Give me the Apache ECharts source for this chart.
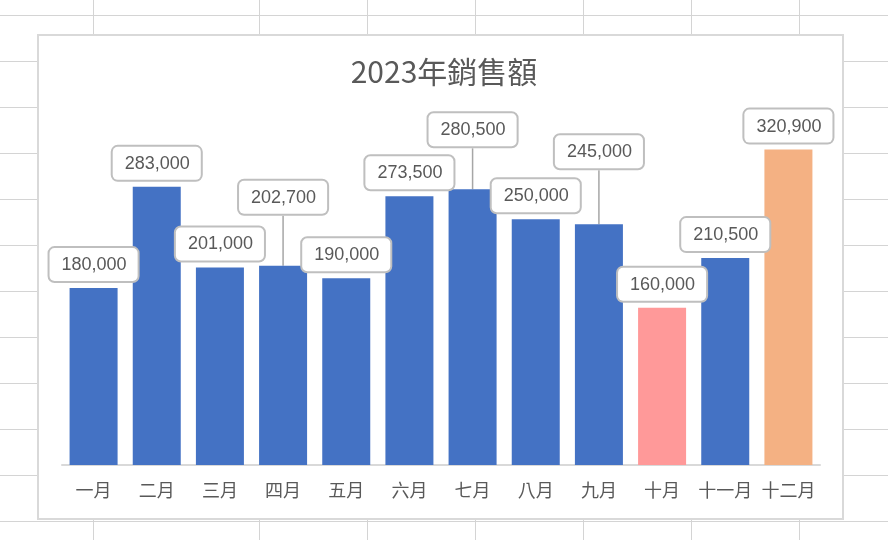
<!DOCTYPE html>
<html>
<head>
<meta charset="utf-8">
<script src="https://cdn.jsdelivr.net/npm/echarts@6/dist/echarts.min.js"></script>
<style>
html,body{margin:0;padding:0;background:#fff;}
#chart{width:888px;height:540px;}
</style>
</head>
<body>
<div id="chart"></div>
<script>
// ---- data ----
const chartTitle = '2023年銷售額';
const months = ['一月','二月','三月','四月','五月','六月','七月','八月','九月','十月','十一月','十二月'];
const sales = [180000, 283000, 201000, 202700, 190000, 273500, 280500, 250000, 245000, 160000, 210500, 320900];

// ---- style ----
const baseColor = '#4472C4';
const specialColors = {9: '#FF9999', 11: '#F4B183'};
const labelRaise = {3: -45, 6: -36, 8: -49};   // label shifts (callouts with leader lines)

const chart = echarts.init(document.getElementById('chart'), null, {renderer: 'canvas'});

// spreadsheet background lines
const sheetGraphics = [];
const rowYs = [15, 61, 107, 153, 199, 245, 291, 337, 383, 429, 475, 521];
const colXs = [93, 259, 367, 475, 583, 691, 799];
rowYs.forEach(y => sheetGraphics.push({type:'line', z:-10, silent:true,
  shape:{x1:0, y1:y+0.5, x2:888, y2:y+0.5}, style:{stroke:'#d4d4d4', lineWidth:1}}));
colXs.forEach(x => sheetGraphics.push({type:'line', z:-10, silent:true,
  shape:{x1:x+0.5, y1:0, x2:x+0.5, y2:540}, style:{stroke:'#d4d4d4', lineWidth:1}}));
sheetGraphics.push({type:'rect', z:-5, silent:true,
  shape:{x:38, y:35, width:805, height:484},
  style:{fill:'#ffffff', stroke:'#d9d9d9', lineWidth:2}});

const cjk = "'Noto Sans CJK TC', 'Noto Sans', sans-serif";

const seriesData = sales.map((v, i) => {
  const item = {value: v, itemStyle: {color: specialColors[i] || baseColor}};
  if (labelRaise[i] !== undefined) item.labelLine = {show: true};
  return item;
});

chart.setOption({
  animation: false,
  backgroundColor: '#ffffff',
  graphic: sheetGraphics,
  title: {
    text: chartTitle,
    left: 'center',
    top: 52,
    textStyle: {fontFamily: cjk, fontSize: 30, fontWeight: 'normal', color: '#595959'}
  },
  grid: {left: 62, right: 68, top: 121, bottom: 75, containLabel: false},
  xAxis: {
    type: 'category',
    data: months,
    axisLine: {show: true, lineStyle: {color: '#d9d9d9', width: 2}},
    axisTick: {show: false},
    axisLabel: {fontFamily: cjk, fontSize: 18, color: '#595959', margin: 16, interval: 0}
  },
  yAxis: {
    type: 'value',
    min: 0,
    max: 350000,
    interval: 50000,
    show: false,
    splitLine: {show: false}
  },
  series: [{
    type: 'bar',
    data: seriesData,
    barCategoryGap: '24%',
    label: {
      show: true,
      position: 'top',
      distance: 7,
      formatter: p => p.value.toLocaleString('en-US'),
      fontFamily: "'Liberation Sans', Arial, sans-serif",
      fontSize: 18,
      color: '#595959',
      backgroundColor: '#ffffff',
      borderColor: '#bfbfbf',
      borderWidth: 2,
      borderRadius: 5,
      padding: [8, 11, 7, 12]
    },
    labelLine: {show: false, lineStyle: {color: '#a6a6a6', width: 1.5}},
    labelLayout: function (params) {
      const d = labelRaise[params.dataIndex];
      return d !== undefined ? {dy: d} : {};
    }
  }]
});
</script>
</body>
</html>
